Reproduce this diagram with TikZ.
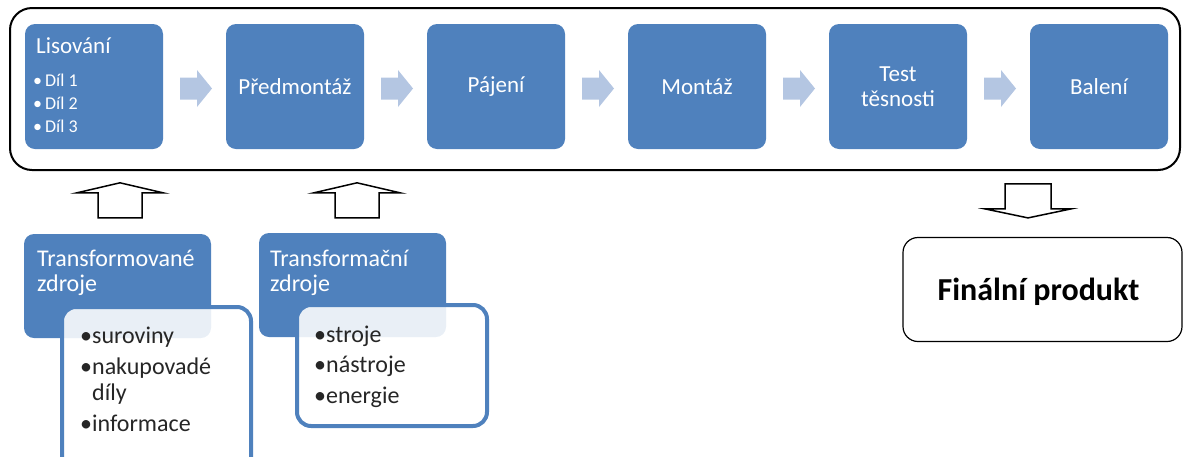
\documentclass[tikz,border=0pt]{standalone}
\usepackage{fontspec}
\setmainfont{Carlito}
\usetikzlibrary{calc}
\definecolor{stepblue}{RGB}{79,129,189}
\definecolor{flowarrow}{RGB}{180,198,226}
\newcommand\setfs[2]{\fontsize{#1}{#2}\selectfont}

\begin{document}
\begin{tikzpicture}[x=1pt,y=-1pt,
  stage/.style={fill=stepblue, rounded corners=10pt, minimum width=138pt,
    minimum height=125pt, inner sep=0pt, text=white, align=center,
    font=\setfs{23}{25}},
  source/.style={fill=stepblue, rounded corners=10pt, minimum width=187pt,
    minimum height=104pt, inner sep=0pt},
  listbox/.style={draw=stepblue, line width=4pt, fill=white, fill opacity=0.88,
    rounded corners=14pt},
  wtext/.style={anchor=base west, inner sep=0pt, text=white},
  btext/.style={anchor=base west, inner sep=0pt, text=black!85},
  blockarrow/.style={draw=black, line width=1.5pt, fill=white, line join=miter},
  pics/blockup/.style={code={
    \draw[blockarrow] (-22,0) -- (-22,-25) -- (-43,-25) -- (0,-35)
      -- (43,-25) -- (22,-25) -- (22,0) -- cycle;}},
  pics/blockdown/.style={code={
    \draw[blockarrow] (-23,-34) -- (-23,-9) -- (-43,-9) -- (0,0)
      -- (43,-9) -- (23,-9) -- (23,-34) -- cycle;}}
]
\useasboundingbox (0,0) rectangle (1184,456);

% process frame
\node[draw=black, line width=2pt, rounded corners=22pt, minimum width=1170pt,
  minimum height=162pt, inner sep=0pt] (frame) at (595,89) {};

% process stages
\node[stage] (s1) at (94,86.5) {};
\node[stage] (s2) at (295,86.5) {Předmontáž};
\node[stage] (s3) at (496,86.5) {Pájení};
\node[stage] (s4) at (697,86.5) {Montáž};
\node[stage] (s5) at (898,86.5) {Test\\těsnosti};
\node[stage] (s6) at (1099,86.5) {Balení};

\node[wtext, font=\setfs{23}{23}] (s1title) at (36,53) {Lisování};
\node[wtext, font=\setfs{18}{18}] (s1a) at (33,86) {•\,Díl 1};
\node[wtext, font=\setfs{18}{18}] (s1b) at (33,109) {•\,Díl 2};
\node[wtext, font=\setfs{18}{18}] (s1c) at (33,132) {•\,Díl 3};

% flow arrows between stages
\foreach \a/\b in {s1/s2,s2/s3,s3/s4,s4/s5,s5/s6}{
  \coordinate (m) at ($(\a.east)!0.5!(\b.west)+(1.5,2)$);
  \fill[flowarrow] ($(m)+(-16,-11)$) -- ($(m)+(1,-11)$) -- ($(m)+(1,-18.5)$)
    -- ($(m)+(16,0)$) -- ($(m)+(1,18.5)$) -- ($(m)+(1,11)$)
    -- ($(m)+(-16,11)$) -- cycle;
}

% transformed resources
\node[source] (r1) at (117.5,286) {};
\node[wtext, font=\setfs{24}{24}] (r1a) at (37,266) {Transformované};
\node[wtext, font=\setfs{24}{24}] (r1b) at (37,291) {zdroje};
\draw[listbox] (62,307) rectangle (251,478);
\node[btext, font=\setfs{24}{24}] (l1a) at (80,343) {•suroviny};
\node[btext, font=\setfs{24}{24}] (l1b) at (80,374) {•nakupovadé};
\node[btext, font=\setfs{24}{24}] (l1c) at (92,400) {díly};
\node[btext, font=\setfs{24}{24}] (l1d) at (80,431) {•informace};

% transforming resources
\node[source] (r2) at (352.5,285) {};
\node[wtext, font=\setfs{24}{24}] (r2a) at (270,266) {Transformační};
\node[wtext, font=\setfs{24}{24}] (r2b) at (270,291) {zdroje};
\draw[listbox] (297,305) rectangle (487,426);
\node[btext, font=\setfs{24}{24}] (l2a) at (314,342) {•stroje};
\node[btext, font=\setfs{24}{24}] (l2b) at (314,372) {•nástroje};
\node[btext, font=\setfs{24}{24}] (l2c) at (314,403) {•energie};

% inputs into the process
\coordinate (u1) at ($(r1.north)+(2.5,-16)$);
\coordinate (u2) at ($(r2.north)+(4.5,-15)$);
\pic at (u1) {blockup};
\pic at (u2) {blockup};

% output
\node[draw=black, line width=1.2pt, rounded corners=15pt, minimum width=279pt,
  minimum height=104pt, inner sep=0pt] (fin) at (1042.5,289.5) {};
\node[inner sep=0pt, font=\bfseries\setfs{32}{32}] (fintext)
  at ($(fin.center)+(-4,2)$) {Finální produkt};
\coordinate (d1) at ($(fin.north)+(-14.5,-19)$);
\pic at (d1) {blockdown};
\end{tikzpicture}
\end{document}
